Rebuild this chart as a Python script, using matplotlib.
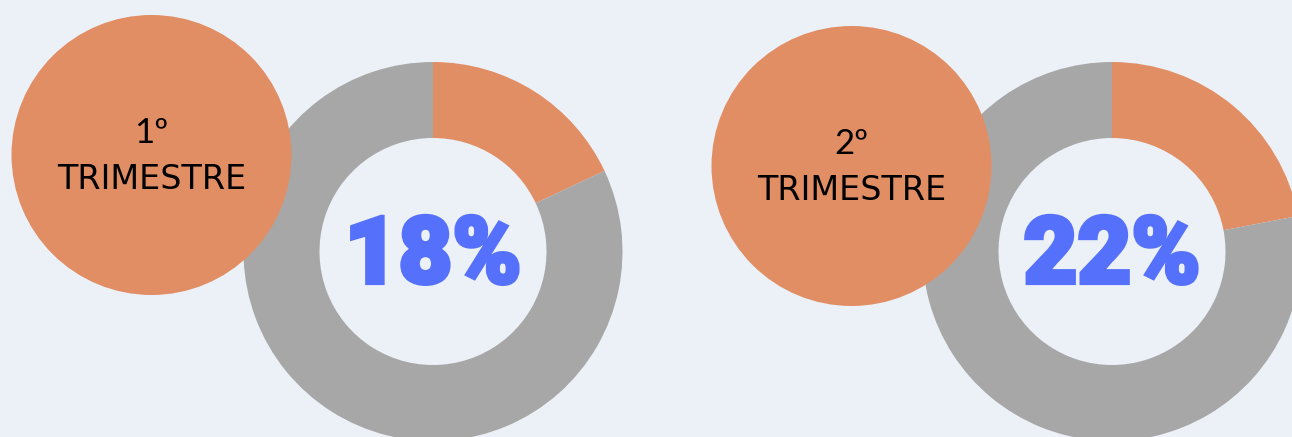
import matplotlib
matplotlib.use('Agg')
import matplotlib.pyplot as plt
from matplotlib.patches import Circle
import matplotlib.patheffects as pe

QUARTERS = ['1º', '2º']
SHARES = [18, 22]

BG = '#ECF1F8'
ORANGE = '#E18E65'
GREY = '#A7A7A7'
BLUE = '#5570FA'

# layout in pixel units (y measured from bottom)
DONUT_X = [433, 1112]
DONUT_Y = 185.5
BUBBLE_XY = [(151.5, 282), (851.5, 271)]


def main():
    fig = plt.figure(figsize=(12.92, 4.37), dpi=100, facecolor=BG)
    ax = fig.add_axes([0, 0, 1, 1])
    ax.set_facecolor(BG)

    for i, (quarter, share) in enumerate(zip(QUARTERS, SHARES)):
        cx = DONUT_X[i]
        ax.pie(
            [share, 100 - share],
            colors=[ORANGE, GREY],
            startangle=90,
            counterclock=False,
            center=(cx, DONUT_Y),
            radius=189.5,
            wedgeprops=dict(width=76, linewidth=0))

        ax.text(cx, 154, f'{share}%', ha='center', va='baseline',
                fontsize=67, fontweight='black', family='Roboto', color=BLUE,
                path_effects=[pe.withStroke(linewidth=3, foreground=BLUE,
                                            joinstyle='miter')])

        bx, by = BUBBLE_XY[i]
        ax.add_patch(Circle((bx, by), 140, facecolor=ORANGE,
                            edgecolor='none', zorder=5))
        ax.text(bx, by + 12, quarter, ha='center', va='baseline',
                fontsize=25, family='Lato', color='black', zorder=6)
        ax.text(bx, by - 34, 'TRIMESTRE', ha='center', va='baseline',
                fontsize=24, family='DejaVu Sans', color='black', zorder=6)

    ax.set_xlim(0, 1292)
    ax.set_ylim(0, 437)
    ax.set_aspect('equal')
    ax.axis('off')
    fig.savefig('out.png', dpi=100, facecolor=BG)


if __name__ == '__main__':
    main()
